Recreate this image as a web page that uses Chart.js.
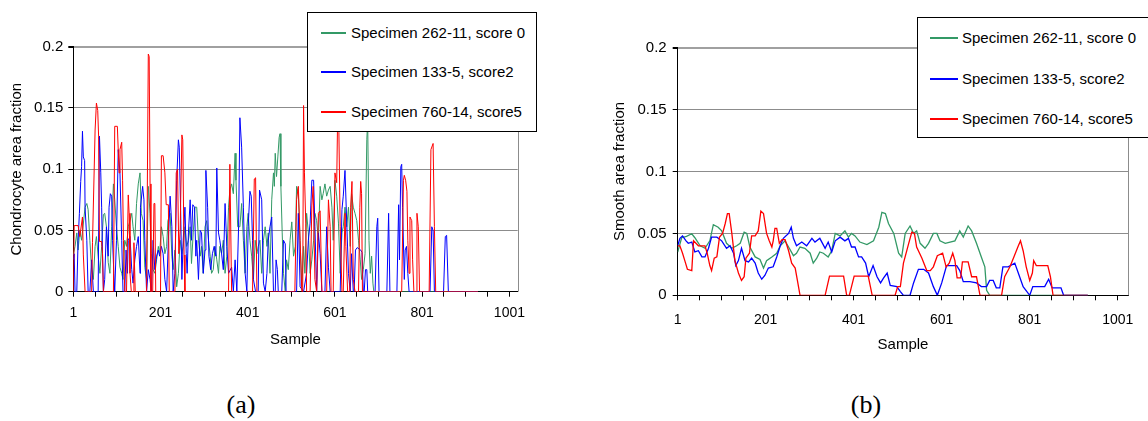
<!DOCTYPE html>
<html>
<head>
<meta charset="utf-8">
<script src="https://cdn.jsdelivr.net/npm/chart.js@4.4.0/dist/chart.umd.min.js"></script>
<style>
    body {
        margin: 0;
        width: 1148px;
        height: 421px;
        overflow: hidden;
        background: #fff;
        position: relative;
        font-family: "Liberation Sans", Arial, sans-serif;
    }
    canvas { position: absolute; top: 0; }
    .legend {
        position: absolute;
        background: #fff;
        border: 1px solid #000;
        box-sizing: border-box;
    }
    .legend-row {
        position: absolute;
        height: 18px;
        line-height: 18px;
        font-size: 15px;
        color: #000;
        white-space: nowrap;
    }
    .swatch { position: absolute; top: 8px; height: 2px; }
    .caption {
        position: absolute;
        font-family: "Liberation Serif", "Times New Roman", serif;
        font-size: 26px;
        color: #000;
        transform: translate(-50%, -50%);
    }
</style>
</head>
<body>
<canvas id="chartA" width="574" height="360" style="left:0"></canvas>
<canvas id="chartB" width="574" height="360" style="left:574px"></canvas>
<div class="legend" id="legendA" style="left:307px;top:12px;width:230px;height:120px"></div>
<div class="legend" id="legendB" style="left:917px;top:17px;width:240px;height:121px"></div>
<div class="caption" style="left:241px;top:405px">(a)</div>
<div class="caption" style="left:866px;top:405px">(b)</div>

<script>
const sampleTicks = [1, 51, 101, 151, 201, 251, 301, 351, 401, 451, 501, 551, 601, 651, 701, 751, 801, 851, 901, 951, 1001];
const sampleLabels = [1, 201, 401, 601, 801, 1001];
const fractionTicks = [0, 0.05, 0.1, 0.15, 0.2];

const seriesNames = ["Specimen 262-11, score 0", "Specimen 133-5, score2", "Specimen 760-14, score5"];
const seriesColors = ["#339966", "#0000ff", "#ff0000"];

// chondrocyte area fraction, [sample, value]
const chondroScore0 = [[1,0.03],[5,0.037],[9,0.048],[12,0.034],[16,0.05],[20,0.042],[28,0.069],[32,0.072],[35,0.067],[39,0.042],[43,0.018],[47,0.01],[51,0.037],[54,0.045],[58,0.029],[62,0.015],[66,0.037],[70,0.063],[73,0.064],[77,0.053],[81,0.024],[85,0.015],[89,0.053],[93,0.088],[96,0.075],[100,0.053],[104,0.037],[108,0.02],[112,0.015],[115,0.01],[119,0.042],[123,0.037],[127,0.053],[131,0.058],[135,0.064],[138,0.053],[142,0.042],[146,0.072],[150,0.088],[154,0.097],[157,0.064],[161,0.058],[165,0.02],[169,0.01],[173,0.086],[177,0.064],[180,0.031],[184,0.018],[188,0.015],[192,0.026],[196,0.037],[199,0.031],[203,0.053],[207,0.045],[211,0.031],[215,0.037],[218,0.058],[223,0.064],[227,0.029],[230,0.018],[234,0.034],[238,0.004],[242,0.015],[246,0.042],[250,0.031],[253,0.037],[257,0.053],[261,0.037],[265,0.042],[269,0.053],[272,0.023],[276,0.048],[280,0.069],[284,0.069],[288,0.042],[292,0.029],[295,0.037],[299,0.015],[303,0.053],[307,0.058],[311,0.042],[315,0.029],[318,0.015],[322,0.018],[326,0.037],[330,0.026],[334,0.015],[337,0.037],[341,0.031],[345,0.042],[349,0.015],[353,0.029],[357,0.069],[360,0.083],[364,0.088],[368,0.08],[372,0.113],[374,0.091],[378,0.053],[383,0.053],[387,0.072],[391,0.042],[395,0.015],[399,0.053],[402,0.064],[406,0.042],[410,0.029],[414,0.01],[418,0.042],[422,0.031],[425,0.037],[429,0.042],[433,0.015],[437,0.042],[441,0.053],[445,0.037],[448,0.048],[452,0.015],[456,0.075],[460,0.097],[462,0.086],[464,0.113],[467,0.094],[470,0.11],[473,0.126],[475,0.129],[477,0.086],[480,0.048],[483,0.015],[487,0],[490,0.026],[494,0.018],[498,0.042],[502,0.057],[506,0.029],[510,0.037],[513,0.086],[517,0.08],[521,0.042],[525,0.004],[529,0.037],[532,0.015],[536,0.064],[540,0.048],[544,0.015],[548,0.026],[552,0.042],[555,0.064],[559,0.058],[563,0.042],[567,0.086],[571,0.075],[574,0.08],[578,0.088],[582,0.078],[586,0.083],[590,0.086],[594,0.069],[597,0.042],[601,0.091],[605,0.078],[609,0.056],[613,0.015],[617,0.048],[620,0.053],[624,0.069],[628,0.053],[632,0.069],[636,0.037],[639,0.08],[643,0.069],[647,0.064],[651,0.058],[655,0.042],[659,0.026],[662,0.01],[666,0.018],[670,0.031],[674,0.124],[676,0.14],[679,0.042],[682,0.015],[685,0.029],[688,0.007],[690,0],[929,0]];
const chondroScore2 = [[1,0.026],[3,0.031],[5,0],[9,0],[12,0.042],[15,0.064],[18,0.09],[20,0.102],[22,0.131],[24,0.11],[27,0.107],[28,0.069],[32,0.042],[35,0],[39,0],[43,0.026],[47,0],[58,0],[61,0.127],[64,0.097],[66,0.069],[68,0.031],[70,0],[73,0.01],[77,0.053],[81,0.029],[83,0.069],[86,0.08],[89,0.078],[91,0.042],[94,0.015],[96,0],[100,0.042],[104,0.116],[108,0.097],[112,0.042],[115,0],[119,0],[122,0.034],[125,0.015],[127,0.042],[131,0.045],[135,0.018],[138,0.007],[142,0.026],[146,0.037],[150,0.045],[154,0.015],[155,0.069],[160,0.086],[163,0.075],[165,0.042],[169,0],[173,0.018],[177,0.01],[180,0],[184,0.042],[188,0.018],[192,0.029],[196,0.034],[199,0.029],[203,0.037],[207,0.031],[211,0.01],[215,0],[219,0.042],[223,0.078],[227,0.053],[230,0],[234,0.015],[238,0.091],[242,0.124],[244,0.118],[247,0.069],[250,0.01],[253,0.042],[257,0.069],[260,0.031],[262,0.015],[265,0.048],[269,0.075],[272,0.042],[275,0.071],[279,0.069],[282,0.029],[284,0.042],[288,0.01],[292,0.05],[295,0.048],[299,0.015],[303,0.034],[305,0.099],[309,0.069],[312,0.029],[316,0.018],[320,0.031],[324,0.037],[328,0.029],[330,0.101],[334,0.048],[337,0.042],[341,0.031],[345,0.018],[349,0.072],[353,0.037],[357,0.015],[364,0.02],[368,0],[372,0.026],[376,0],[380,0.053],[383,0.142],[387,0.118],[391,0.069],[395,0.015],[399,0],[402,0.053],[406,0.082],[409,0.078],[412,0.042],[414,0.01],[419,0],[425,0],[428,0.083],[433,0.075],[437,0.007],[441,0],[445,0.015],[448,0.042],[452,0.053],[456,0.061],[460,0],[464,0],[466,0.026],[469,0.018],[471,0],[479,0],[483,0.042],[487,0.039],[489,0],[513,0],[517,0.064],[521,0.004],[529,0],[536,0.015],[540,0.042],[544,0.056],[548,0.091],[552,0.091],[555,0.053],[559,0],[563,0.048],[567,0.031],[571,0],[578,0],[582,0.053],[586,0.02],[590,0],[613,0],[617,0.067],[620,0.078],[624,0.099],[628,0.056],[632,0.015],[636,0],[639,0.031],[643,0],[645,0],[648,0.034],[652,0.036],[656,0.035],[660,0.034],[663,0.032],[666,0],[668,0],[671,0.018],[674,0.018],[676,0],[693,0],[697,0.053],[699,0.06],[702,0],[720,0],[724,0.064],[727,0],[743,0],[747,0.071],[749,0.026],[752,0.102],[754,0.104],[756,0.069],[760,0.01],[762,0.034],[765,0.037],[768,0.015],[771,0],[819,0],[823,0.053],[826,0.05],[829,0],[850,0],[854,0.045],[857,0.046],[861,0],[929,0]];
const chondroScore5 = [[1,0],[3,0.054],[12,0.054],[16,0.045],[22,0.061],[24,0.03],[28,0],[43,0],[45,0.04],[51,0.132],[54,0.154],[57,0.148],[59,0.127],[61,0.041],[66,0.041],[68,0.031],[70,0],[93,0],[96,0.135],[102,0.135],[106,0.097],[108,0.116],[112,0.122],[114,0.091],[116,0.042],[119,0],[123,0],[127,0.079],[129,0.064],[131,0.015],[134,0],[138,0],[140,0.04],[143,0],[169,0],[173,0.194],[175,0.192],[177,0.088],[179,0],[183,0],[186,0.072],[188,0.072],[190,0],[201,0],[203,0.111],[207,0.111],[211,0.097],[214,0.071],[219,0.071],[221,0],[234,0],[237,0.097],[240,0.1],[243,0.031],[246,0.05],[250,0.128],[252,0.124],[255,0.03],[257,0],[357,0],[360,0.104],[364,0],[412,0],[416,0.092],[419,0.093],[422,0],[509,0],[513,0.075],[517,0.086],[521,0.042],[525,0],[527,0],[529,0.152],[531,0.097],[534,0.056],[536,0],[544,0],[548,0.07],[551,0.086],[555,0.01],[559,0],[563,0.064],[567,0.066],[571,0],[582,0],[586,0.075],[590,0.053],[592,0],[597,0],[601,0.097],[605,0.089],[607,0.14],[610,0.13],[613,0.053],[617,0],[620,0],[624,0.064],[626,0.037],[630,0],[635,0],[637,0.069],[640,0.09],[643,0.01],[647,0],[655,0],[658,0.069],[660,0.09],[662,0.08],[664,0],[754,0],[758,0.091],[760,0.095],[763,0.091],[766,0.082],[768,0.042],[771,0.015],[773,0.061],[777,0.058],[779,0.026],[782,0],[787,0],[789,0.064],[792,0.053],[795,0],[817,0],[821,0.116],[826,0.121],[829,0.053],[832,0],[929,0]];

// smoothed area fraction, [sample, value]
const smoothScore0 = [[1,0.035],[10,0.0465],[21,0.0476],[33,0.0497],[40,0.0465],[52,0.04],[63,0.038],[74,0.044],[82,0.057],[93,0.055],[101,0.052],[112,0.042],[124,0.038],[135,0.04],[143,0.042],[152,0.051],[158,0.05],[165,0.039],[177,0.031],[188,0.029],[196,0.022],[203,0.028],[215,0.031],[226,0.034],[234,0.04],[245,0.044],[253,0.039],[264,0.032],[271,0.034],[279,0.039],[290,0.038],[302,0.034],[309,0.026],[317,0.03],[324,0.035],[332,0.034],[343,0.031],[351,0.036],[359,0.05],[370,0.048],[381,0.052],[389,0.047],[396,0.05],[404,0.048],[415,0.043],[431,0.041],[446,0.044],[458,0.055],[465,0.067],[473,0.066],[480,0.058],[492,0.05],[503,0.034],[510,0.031],[518,0.05],[529,0.056],[537,0.05],[544,0.052],[552,0.042],[563,0.038],[571,0.042],[582,0.05],[590,0.05],[597,0.044],[609,0.042],[620,0.043],[631,0.044],[642,0.052],[650,0.047],[661,0.056],[669,0.052],[680,0.042],[691,0.031],[699,0.023],[703,0.004],[710,0],[933,0]];
const smoothScore2 = [[1,0.04],[6,0.046],[12,0.048],[20,0.044],[25,0.042],[33,0.043],[40,0.035],[48,0.036],[56,0.031],[63,0.031],[71,0.038],[78,0.047],[90,0.047],[101,0.044],[112,0.038],[120,0.04],[128,0.034],[133,0.024],[139,0.028],[146,0.038],[154,0.028],[162,0.027],[169,0.03],[177,0.026],[184,0.018],[192,0.013],[199,0.016],[207,0.022],[218,0.023],[226,0.031],[234,0.04],[241,0.046],[253,0.05],[259,0.055],[264,0.046],[271,0.04],[283,0.043],[294,0.04],[306,0.046],[313,0.043],[324,0.046],[336,0.038],[343,0.043],[351,0.035],[359,0.044],[370,0.047],[381,0.044],[389,0.046],[396,0.039],[404,0.039],[412,0.031],[419,0.031],[428,0.026],[435,0.015],[445,0.024],[454,0.015],[462,0.01],[469,0.014],[477,0.018],[484,0.008],[499,0.007],[507,0.003],[514,0],[529,0],[537,0.01],[548,0.021],[560,0.021],[571,0.018],[582,0.007],[591,0],[601,0.01],[612,0.024],[635,0.024],[642,0.02],[650,0.011],[665,0.011],[680,0.01],[691,0.007],[703,0.007],[710,0.012],[718,0.012],[725,0.006],[733,0.006],[740,0.023],[752,0.023],[767,0.026],[774,0.019],[786,0.007],[801,0],[808,0.007],[835,0.007],[844,0.013],[852,0.006],[872,0.006],[878,0],[933,0]];
const smoothScore5 = [[1,0.04],[6,0.04],[12,0.034],[18,0.027],[23,0.021],[33,0.02],[37,0.044],[48,0.04],[63,0.04],[68,0.034],[74,0.024],[78,0.02],[84,0.03],[90,0.031],[96,0.047],[103,0.05],[109,0.058],[114,0.066],[118,0.066],[124,0.05],[131,0.028],[139,0.018],[146,0.012],[152,0.015],[156,0.03],[164,0.034],[169,0.048],[177,0.048],[184,0.052],[190,0.068],[196,0.066],[203,0.05],[209,0.044],[215,0.039],[218,0.044],[222,0.054],[226,0.054],[232,0.042],[238,0.045],[245,0.045],[253,0.036],[260,0.026],[268,0.022],[273,0.012],[279,0],[336,0],[346,0.0155],[378,0.0155],[385,0],[391,0],[402,0.0155],[434,0.0155],[443,0],[495,0],[501,0.007],[507,0.007],[514,0.026],[526,0.042],[533,0.051],[539,0.05],[544,0.039],[556,0.03],[567,0.02],[575,0.02],[582,0.023],[591,0.032],[603,0.034],[611,0.023],[618,0.026],[626,0.034],[631,0.028],[636,0.014],[644,0.014],[648,0.027],[661,0.027],[669,0.015],[680,0.015],[688,0],[737,0],[744,0.015],[756,0.023],[765,0.031],[774,0.039],[780,0.044],[786,0.036],[793,0.023],[801,0.012],[807,0.018],[810,0.028],[816,0.024],[842,0.024],[848,0.015],[854,0],[933,0]];

const FONT = "'Liberation Sans', Arial, sans-serif";

// grey line along the right edge of the plot area
const plotFrame = {
    id: "plotFrame",
    afterDraw(chart) {
        const { ctx, chartArea } = chart;
        ctx.save();
        ctx.strokeStyle = "#8c8c8c";
        ctx.lineWidth = 1;
        ctx.beginPath();
        ctx.moveTo(Math.round(chartArea.right) + 0.5, chartArea.top);
        ctx.lineTo(Math.round(chartArea.right) + 0.5, chartArea.bottom);
        ctx.stroke();
        ctx.restore();
    }
};

function makeDatasets(seriesList, width) {
    // red on top, green underneath
    return seriesList.map((pairs, i) => ({
        label: seriesNames[i],
        data: pairs.map(p => ({ x: p[0], y: p[1] })),
        borderColor: seriesColors[i],
        borderWidth: width,
        pointRadius: 0,
        tension: 0,
        fill: false,
        order: seriesList.length - i
    }));
}

function makePanel(id, seriesList, opt) {
    new Chart(document.getElementById(id), {
        type: "line",
        data: { datasets: makeDatasets(seriesList, opt.lineWidth) },
        plugins: [plotFrame],
        options: {
            responsive: false,
            devicePixelRatio: 1,
            animation: false,
            events: [],
            layout: { padding: opt.padding },
            plugins: { legend: { display: false }, tooltip: { enabled: false } },
            scales: {
                x: {
                    type: "linear",
                    min: 1,
                    max: opt.xMax,
                    afterBuildTicks: s => { s.ticks = sampleTicks.map(v => ({ value: v })); },
                    afterFit: s => { s.height = 60; },
                    grid: { drawOnChartArea: false, tickLength: 5, color: "#000", tickColor: "#000" },
                    border: { color: "#000", width: 1 },
                    ticks: {
                        autoSkip: false,
                        maxRotation: 0,
                        color: "#000",
                        padding: opt.xTickPad,
                        font: { family: FONT, size: 14 },
                        callback: v => sampleLabels.includes(v) ? String(v) : ""
                    },
                    title: {
                        display: true,
                        text: "Sample",
                        color: "#000",
                        font: { family: FONT, size: 15 },
                        padding: { top: 0, bottom: opt.xTitlePad }
                    }
                },
                y: {
                    min: 0,
                    max: 0.2,
                    afterBuildTicks: s => { s.ticks = fractionTicks.map(v => ({ value: v })); },
                    afterFit: s => { s.width = opt.yWidth; },
                    grid: {
                        tickLength: 5,
                        tickColor: "#000",
                        color: c => c.tick && c.tick.value === 0.2 ? "#a0a0a0" : "#8c8c8c",
                        lineWidth: c => c.tick && c.tick.value === 0.2 ? 2 : 1
                    },
                    border: { color: "#000", width: 1 },
                    ticks: {
                        color: "#000",
                        padding: opt.yTickPad,
                        font: { family: FONT, size: 15 },
                        callback: v => String(v)
                    },
                    title: {
                        display: true,
                        text: opt.yTitle,
                        color: "#000",
                        font: { family: FONT, size: 15 },
                        padding: { top: opt.yTitlePad, bottom: 0 }
                    }
                }
            }
        }
    });
}

function makeLegend(id, rowTops, lineLeft, lineWidth, textLeft) {
    const box = document.getElementById(id);
    seriesNames.forEach((name, i) => {
        const row = document.createElement("div");
        row.className = "legend-row";
        row.style.top = rowTops[i] + "px";
        row.style.left = "0px";
        row.innerHTML = `<span class="swatch" style="left:${lineLeft}px;width:${lineWidth}px;background-color:${seriesColors[i]}"></span>` +
            `<span style="position:absolute;left:${textLeft}px">${name}</span>`;
        box.appendChild(row);
    });
}

makePanel("chartA", [chondroScore0, chondroScore2, chondroScore5], {
    xMax: 1020,
    lineWidth: 1,
    padding: { left: 0, right: 56.3, top: 46.7, bottom: 8.3 },
    yWidth: 73.3,
    yTickPad: 5,
    yTitle: "Chondrocyte area fraction",
    yTitlePad: 8.3,
    xTickPad: 8,
    xTitlePad: 2.7
});

makePanel("chartB", [smoothScore0, smoothScore2, smoothScore5], {
    xMax: 1025,
    lineWidth: 1.3,
    padding: { left: 0, right: 19.7, top: 47.7, bottom: 4.7 },
    yWidth: 103.7,
    yTickPad: 6,
    yTitle: "Smooth area fraction",
    yTitlePad: 37,
    xTickPad: 11,
    xTitlePad: 1.3
});

makeLegend("legendA", [11, 50, 90], 13, 25, 43);
makeLegend("legendB", [11, 52, 92], 12, 28, 44);
</script>
</body>
</html>
